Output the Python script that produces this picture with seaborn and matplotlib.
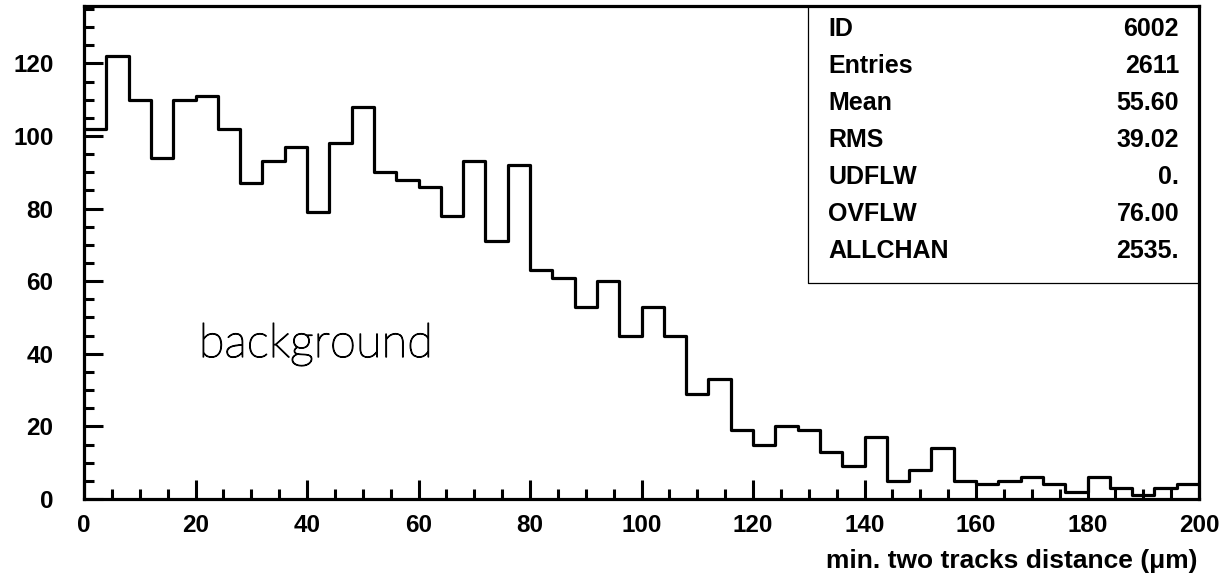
# Histogram: min. two tracks distance, background sample (PAW style)

import numpy as np
import pandas as pd
import seaborn as sns
import matplotlib.pyplot as plt
import matplotlib.patheffects as pe
from matplotlib.ticker import MultipleLocator


# Data ............................................................................................

bin_edges = list(range(0, 204, 4))
counts = [102, 122, 110, 94, 110, 111, 102, 87, 93, 97,
          79, 98, 108, 90, 88, 86, 78, 93, 71, 92,
          63, 61, 53, 60, 45, 53, 45, 29, 33, 19,
          15, 20, 19, 13, 9, 17, 5, 8, 14, 5,
          4, 5, 6, 4, 2, 6, 3, 1, 3, 4]
bin_centers = [e + 2 for e in bin_edges[:-1]]

stat_names = ["ID", "Entries", "Mean", "RMS", "UDFLW", "OVFLW", "ALLCHAN"]
stat_values = ["6002", "2611", "55.60", "39.02", "0.", "76.00", "2535."]

df = pd.DataFrame({"distance": bin_centers, "count": counts})


# Style ...........................................................................................

sns.set_style("ticks")
plt.rcParams['font.family'] = ['Liberation Sans', 'DejaVu Sans']
plt.rcParams['font.weight'] = 'bold'
plt.rcParams['text.color'] = 'black'


# Plot ............................................................................................

fig = plt.figure(figsize = (12.29, 5.85), dpi = 100)
ax = fig.add_axes([84 / 1229, 86 / 585, 1115 / 1229, 493 / 585])

sns.histplot(data = df, x = "distance", weights = "count", bins = bin_edges, element = "step",
             fill = False, color = "black", linewidth = 2.3, ax = ax)

ax.set_xlim(0, 200)
ax.set_ylim(0, 135.8)
ax.xaxis.set_major_locator(MultipleLocator(20))
ax.xaxis.set_minor_locator(MultipleLocator(5))
ax.yaxis.set_major_locator(MultipleLocator(20))
ax.yaxis.set_minor_locator(MultipleLocator(5))
ax.tick_params(which = "both", direction = "in", width = 2.2, color = "black",
               labelcolor = "black", top = False, right = False)
ax.tick_params(which = "major", length = 14, labelsize = 17.5)
ax.tick_params(axis = "x", which = "major", pad = 11)
ax.tick_params(axis = "y", which = "major", pad = 22)
ax.tick_params(which = "minor", length = 7)
for label in ax.get_xticklabels() + ax.get_yticklabels():
    label.set_fontweight("bold")
for side in ["left", "right", "top", "bottom"]:
    ax.spines[side].set_linewidth(2.3)
    ax.spines[side].set_color("black")
ax.set_xlabel("")
ax.set_ylabel("")

# Stats box
box_x0, box_y0 = (808 - 84) / 1115, (499 - 283) / 493
ax.plot([box_x0, box_x0, 1], [1, box_y0, box_y0], transform = ax.transAxes,
        color = "black", linewidth = 0.9, clip_on = False)
for i, (name, value) in enumerate(zip(stat_names, stat_values)):
    y = 1 - (23 + i * 37) / 493
    ax.text((828 - 84) / 1115, y, name, transform = ax.transAxes, fontsize = 18,
            fontweight = "bold", ha = "left", va = "center")
    ax.text((1179 - 84) / 1115, y, value, transform = ax.transAxes, fontsize = 18,
            fontweight = "bold", ha = "right", va = "center")

# Label inside plot (thin font, slightly thickened)
ax.text(41.6, 39.1, "background", fontsize = 34, fontweight = "light",
        family = "Lato", color = "black", ha = "center", va = "baseline",
        path_effects = [pe.withStroke(linewidth = 0.9, foreground = "black")])

fig.text(1198 / 1229, 24 / 585, "min. two tracks distance (\u03bcm)", fontsize = 19,
         fontweight = "bold", ha = "right", va = "center")

plt.savefig("out.png", dpi = 100)
